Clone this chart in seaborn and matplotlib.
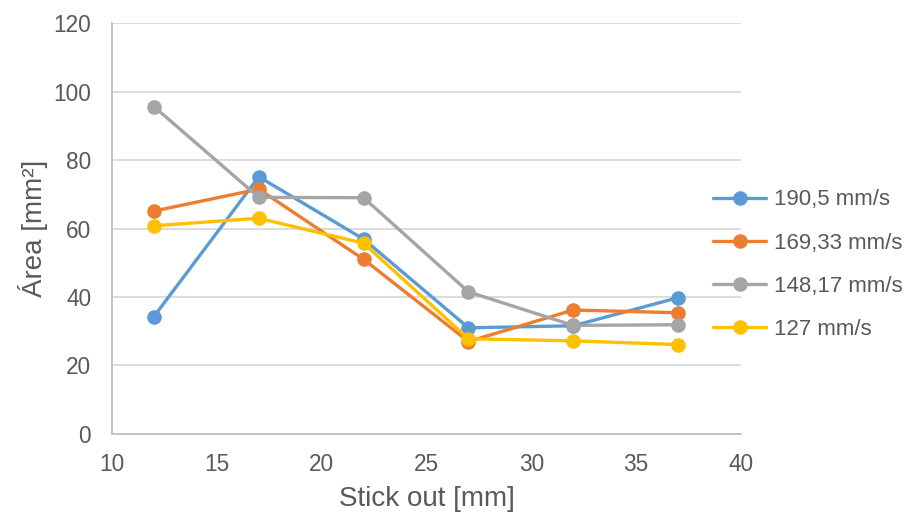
import matplotlib
matplotlib.use("Agg")
import matplotlib.pyplot as plt
import seaborn as sns
import pandas as pd

stick_out = [12, 17, 22, 27, 32, 37]
s190 = [34.3, 75.1, 56.9, 31.0, 31.6, 39.8]
s169 = [65.1, 71.5, 51.0, 27.0, 36.2, 35.4]
s148 = [95.6, 69.1, 69.0, 41.5, 31.7, 31.9]
s127 = [60.8, 63.0, 55.7, 27.8, 27.2, 26.1]
labels = ["190,5 mm/s", "169,33 mm/s", "148,17 mm/s", "127 mm/s"]
colors = ["#5B9BD5", "#ED7D31", "#A5A5A5", "#FFC000"]

rows = []
for lab, vals in zip(labels, [s190, s169, s148, s127]):
    for x, v in zip(stick_out, vals):
        rows.append({"x": x, "y": v, "serie": lab})
df = pd.DataFrame(rows)

sns.set_theme(style="white")
plt.rcParams['font.family'] = ['Liberation Sans', 'DejaVu Sans']

fig = plt.figure(figsize=(9.13, 5.15), dpi=100)
ax = fig.add_axes([0.1227, 0.1573, 0.6889, 0.798])

sns.lineplot(data=df, x="x", y="y", hue="serie", hue_order=labels,
             palette=colors, marker="o", markersize=10.5, linewidth=2.4,
             markeredgewidth=0, ax=ax, legend=True, sort=False)

ax.set_xlim(10, 40)
ax.set_ylim(0, 120)
ax.set_xticks(range(10, 41, 5))
ax.set_yticks(range(0, 121, 20))
ax.yaxis.grid(True, color="#D9D9D9", linewidth=1.3)
ax.xaxis.grid(False)
ax.set_axisbelow(True)
for s in ["top", "right"]:
    ax.spines[s].set_visible(False)
for s in ["left", "bottom"]:
    ax.spines[s].set_color("#BFBFBF")
    ax.spines[s].set_linewidth(1.3)
ax.tick_params(axis="both", length=0, labelsize=16.3, labelcolor="#595959")
ax.tick_params(axis="x", pad=14)
ax.tick_params(axis="y", pad=15)
ax.set_xlabel("Stick out [mm]", fontsize=20, color="#595959", labelpad=7)
ax.set_ylabel("Área [mm²]", fontsize=20, color="#595959", labelpad=4)

h, l = ax.get_legend_handles_labels()
ax.get_legend().remove()
leg = fig.legend(h, l, loc="center left", bbox_to_anchor=(0.781, 0.486),
                 frameon=False, fontsize=16, handlelength=2.4,
                 handletextpad=0.35, labelspacing=1.0, borderaxespad=0,
                 borderpad=0)
for t in leg.get_texts():
    t.set_color("#595959")

fig.savefig("out.png", dpi=100)
